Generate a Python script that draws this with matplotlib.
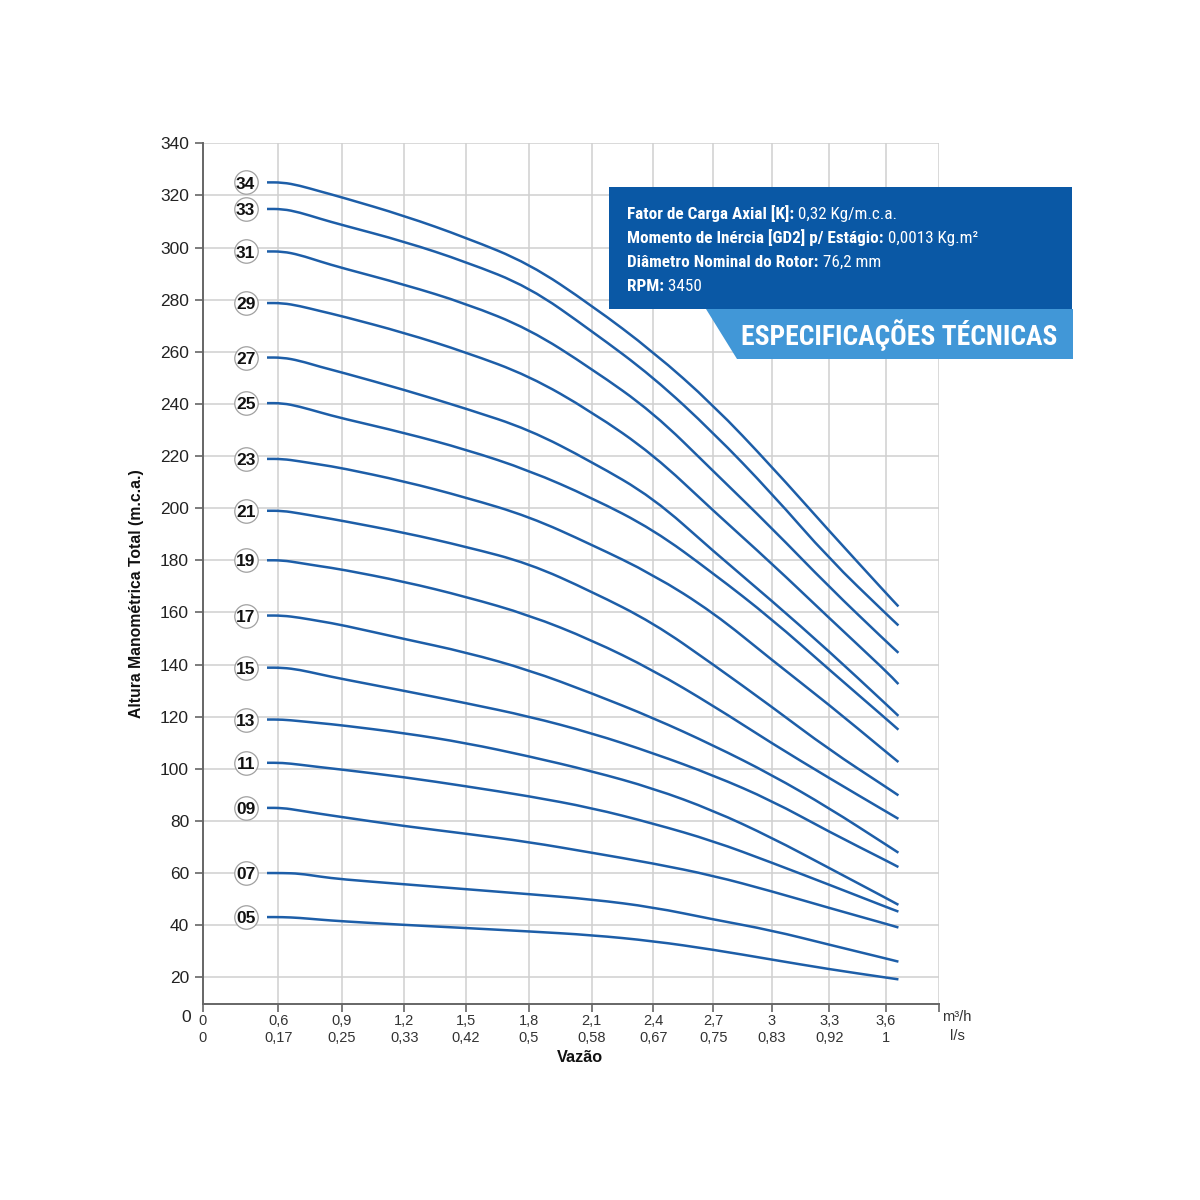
import os
import numpy as np
import matplotlib
matplotlib.use("Agg")
import matplotlib.pyplot as plt
from matplotlib import font_manager
from matplotlib.patches import Rectangle, Polygon, PathPatch
from matplotlib.path import Path

# ---------------- data ----------------
flow = [0.51, 0.62, 0.70, 0.80, 0.90, 1.2, 1.5, 1.8, 2.1, 2.4, 2.7, 3.0, 3.3, 3.6, 3.67]

head_34 = [325.0, 325.0, 323.8, 321.5, 319.3, 312.2, 303.8, 293.9, 277.8, 260.0, 239.6, 216.0, 191.2, 167.4, 162.3]
head_33 = [314.8, 314.8, 313.5, 311.0, 308.7, 302.3, 294.5, 284.9, 268.0, 250.3, 229.0, 205.7, 180.5, 159.5, 155.0]
head_31 = [298.5, 298.5, 297.2, 294.6, 292.2, 285.8, 278.5, 268.8, 253.5, 236.7, 214.2, 192.4, 169.7, 148.9, 144.5]
head_29 = [278.7, 278.7, 277.6, 275.6, 273.7, 267.3, 259.8, 250.8, 237.0, 220.6, 199.0, 178.8, 157.8, 137.5, 132.5]
head_27 = [257.8, 257.8, 256.6, 254.2, 252.1, 245.4, 238.2, 230.2, 217.8, 204.0, 183.5, 164.5, 145.0, 124.8, 120.3]
head_25 = [240.3, 240.3, 239.0, 236.7, 234.5, 228.9, 222.5, 214.5, 204.0, 191.8, 175.0, 157.5, 138.0, 119.2, 115.0]
head_23 = [218.9, 218.9, 218.0, 216.7, 215.4, 210.3, 204.1, 196.8, 186.0, 174.5, 160.0, 141.8, 124.5, 106.5, 102.6]
head_21 = [199.0, 199.0, 198.0, 196.6, 195.2, 190.6, 185.2, 178.8, 168.0, 156.0, 140.0, 123.8, 107.3, 93.0, 89.8]
head_19 = [180.0, 180.0, 179.0, 177.7, 176.5, 171.8, 166.0, 159.0, 149.4, 137.8, 124.2, 109.8, 96.4, 83.6, 80.8]
head_17 = [158.8, 158.8, 158.0, 156.6, 155.2, 149.8, 144.7, 137.9, 129.0, 119.5, 109.0, 97.7, 84.9, 70.9, 67.8]
head_15 = [138.8, 138.8, 138.0, 136.2, 134.5, 129.9, 125.2, 120.1, 113.7, 106.0, 97.5, 87.8, 75.8, 64.8, 62.3]
head_13 = [118.9, 118.9, 118.3, 117.5, 116.7, 113.7, 109.9, 104.8, 99.1, 92.5, 84.0, 73.6, 61.9, 50.4, 47.8]
head_11 = [102.3, 102.3, 101.6, 100.6, 99.7, 96.8, 93.3, 89.5, 85.0, 79.0, 72.3, 64.0, 55.5, 47.0, 45.2]
head_09 = [85.0, 85.0, 84.0, 82.7, 81.5, 78.0, 75.1, 71.9, 67.8, 63.7, 59.0, 53.0, 46.6, 40.5, 39.1]
head_07 = [60.0, 60.0, 59.8, 58.6, 57.6, 55.7, 53.8, 51.9, 49.9, 46.9, 42.2, 38.0, 32.5, 27.2, 26.0]
head_05 = [43.1, 43.1, 42.8, 42.1, 41.5, 40.1, 38.9, 37.6, 36.2, 33.9, 30.6, 26.8, 23.1, 19.9, 19.2]

stage_labels = ["34", "33", "31", "29", "27", "25", "23", "21", "19", "17", "15", "13", "11", "09", "07", "05"]
heads = [head_34, head_33, head_31, head_29, head_27, head_25, head_23, head_21,
         head_19, head_17, head_15, head_13, head_11, head_09, head_07, head_05]

x_ticks = [0, 0.6, 0.9, 1.2, 1.5, 1.8, 2.1, 2.4, 2.7, 3.0, 3.3, 3.6]
x_labels_m3h = ["0", "0,6", "0,9", "1,2", "1,5", "1,8", "2,1", "2,4", "2,7", "3", "3,3", "3,6"]
x_labels_ls = ["0", "0,17", "0,25", "0,33", "0,42", "0,5", "0,58", "0,67", "0,75", "0,83", "0,92", "1"]
x_end = 3.9
y_ticks = list(range(20, 341, 20))

spec_lines = [("Fator de Carga Axial [K]:", " 0,32 Kg/m.c.a."),
              ("Momento de Inércia [GD2] p/ Estágio:", " 0,0013 Kg.m²"),
              ("Diâmetro Nominal do Rotor:", " 76,2 mm"),
              ("RPM:", " 3450")]
spec_title = "ESPECIFICAÇÕES TÉCNICAS"

# ---------------- x scale (non-uniform grid of the original) ----------------
scale_vals = np.array([0, 0.6, 0.9, 1.2, 1.5, 1.8, 2.1, 2.4, 2.7, 3.0, 3.3, 3.6, 3.9])
scale_pos = np.array([203, 278.3, 341.7, 404.3, 466, 529, 591.7, 653.3, 713.3, 771.7, 829.3, 886, 939.3])


def _pw(x, a, b):
    x = np.asarray(x, dtype=float)
    y = np.interp(x, a, b)
    lo = b[0] + (x - a[0]) * (b[1] - b[0]) / (a[1] - a[0])
    hi = b[-1] + (x - a[-1]) * (b[-1] - b[-2]) / (a[-1] - a[-2])
    y = np.where(x < a[0], lo, y)
    y = np.where(x > a[-1], hi, y)
    return y


def fwd(x):
    return _pw(x, scale_vals, scale_pos)


def inv(p):
    return _pw(p, scale_pos, scale_vals)


# ---------------- fonts ----------------
def find_condensed(bold):
    prefs = ["roboto condensed", "open sans condensed", "noto sans", "liberation sans narrow",
             "dejavu sans condensed", "lato", "inter"]
    best = None
    for f in font_manager.fontManager.ttflist:
        fn = os.path.basename(f.fname).lower()
        nm = f.name.lower()
        st = str(f.stretch).lower()
        cond = ("condensed" in fn or "narrow" in fn or "condensed" in nm or "narrow" in nm
                or st in ("condensed", "semi-condensed", "500", "625", "750"))
        if not cond or "extra" in fn or "ultra" in fn or "semi" in fn:
            continue
        if f.style != "normal" or "italic" in fn:
            continue
        w = f.weight
        try:
            w = int(w)
        except Exception:
            w = {"bold": 700, "normal": 400, "regular": 400}.get(str(w).lower(), 400)
        if bold and w != 700:
            continue
        if not bold and w != 400:
            continue
        rank = len(prefs)
        for i, p in enumerate(prefs):
            if p in nm or p.replace(" ", "") in fn:
                rank = i
                break
        if best is None or rank < best[0]:
            best = (rank, f.fname)
    if best:
        return font_manager.FontProperties(fname=best[1])
    return font_manager.FontProperties(family="Liberation Sans", weight="bold" if bold else "normal")


fp_cb = find_condensed(True)
fp_cr = find_condensed(False)

plt.rcParams["font.family"] = ["Liberation Sans", "DejaVu Sans"]

# ---------------- figure ----------------
W = H = 1200
fig = plt.figure(figsize=(12, 12), dpi=100)
fig.patch.set_facecolor("white")


def fx(px):
    return px / W


def fy(py):
    return 1 - py / H


ax = fig.add_axes([fx(203), fy(1004), (939.3 - 203) / W, (1004 - 143.3) / H])
ax.set_xscale("function", functions=(fwd, inv))
ax.set_xlim(0, x_end)
ax.set_ylim(9.75, 340)

ax.set_xticks(x_ticks + [x_end])
ax.set_xticklabels([f"{a}\n{b}" for a, b in zip(x_labels_m3h, x_labels_ls)] + [""],
                   fontsize=10.5, linespacing=1.25, color="#333333")
ax.set_yticks(y_ticks)
ax.set_yticklabels([str(v) for v in y_ticks], fontsize=12.5, color="#222222")
ax.xaxis.set_minor_locator(matplotlib.ticker.NullLocator())
ax.tick_params(axis="x", direction="out", length=6, width=1.2, color="#666666", pad=1.5)
ax.tick_params(axis="y", direction="out", length=6, width=1.2, color="#666666", pad=4)

ax.grid(True, color="#d0d0d0", linewidth=1.1, zorder=0)
ax.set_axisbelow(True)
for s in ("top", "right"):
    ax.spines[s].set_visible(False)
for s in ("left", "bottom"):
    ax.spines[s].set_color("#666666")
    ax.spines[s].set_linewidth(1.4)


def smooth_path(xs, ys):
    """Quadratic B-spline style path through the read points (corners rounded)."""
    pts = np.column_stack([xs, ys]).astype(float)
    verts = [pts[0], (pts[0] + pts[1]) / 2]
    codes = [Path.MOVETO, Path.LINETO]
    for i in range(1, len(pts) - 1):
        verts += [pts[i], (pts[i] + pts[i + 1]) / 2]
        codes += [Path.CURVE3, Path.CURVE3]
    verts.append(pts[-1])
    codes.append(Path.LINETO)
    return Path(np.array(verts), codes)


curve_color = "#1d5ea8"
for h in heads:
    ax.add_patch(PathPatch(smooth_path(flow, h), facecolor="none", edgecolor=curve_color,
                           lw=1.8, capstyle="butt", joinstyle="round", zorder=3))

circ_x = 0.34
ax.scatter([circ_x] * len(heads), [h[0] for h in heads], s=285, facecolor="white",
           edgecolor="#a0a0a0", linewidth=0.9, zorder=4, clip_on=False)
for lab, h in zip(stage_labels, heads):
    ax.annotate(lab, (circ_x, h[0]), xytext=(0, -4.4), textcoords="offset points",
                ha="center", va="baseline", fontsize=12.5, fontweight="bold",
                color="#111111", zorder=5)

# axis extras
fig.text(fx(186), fy(1018), "0", ha="center", va="center", fontsize=12.5, color="#222222")
fig.text(fx(957), fy(1017), "m³/h", ha="center", va="center", fontsize=10.5, color="#333333")
fig.text(fx(957), fy(1036), "l/s", ha="center", va="center", fontsize=10.5, color="#333333")
xlab = fig.text(fx(580), fy(1057), "Vazão", ha="center", va="center", fontsize=12.5,
                fontweight="bold", color="#111111")
ylab = fig.text(fx(136), fy(594), "Altura Manométrica Total (m.c.a.)", ha="center", va="center",
                rotation=90, fontsize=11, fontweight="bold", color="#111111")

# spec box
fig.add_artist(Rectangle((fx(609), fy(309)), (1072 - 609) / W, (309 - 187) / H,
                         transform=fig.transFigure, facecolor="#0a58a5", edgecolor="none", zorder=5))
fig.add_artist(Polygon([(fx(706), fy(309)), (fx(1073), fy(309)), (fx(1073), fy(359)), (fx(737), fy(359))],
                       closed=True, transform=fig.transFigure, facecolor="#4197d7", edgecolor="none", zorder=5))

baselines = [219.3, 243.3, 267.3, 291.0]
bold_texts, reg_texts = [], []
for (b, r), yb in zip(spec_lines, baselines):
    tb = fig.text(fx(627.3), fy(yb), b, ha="left", va="baseline", fontproperties=fp_cb,
                  fontsize=11, color="white", zorder=6)
    tr = fig.text(fx(627.3), fy(yb), r, ha="left", va="baseline", fontproperties=fp_cr,
                  fontsize=11, color="white", zorder=6)
    bold_texts.append(tb)
    reg_texts.append(tr)

title = fig.text(fx(740.7), fy(345), spec_title, ha="left", va="baseline", fontproperties=fp_cb,
                 fontsize=24, color="white", zorder=6)

# fit text sizes to the widths measured on the original
fig.canvas.draw()
rend = fig.canvas.get_renderer()


def width_px(t):
    return t.get_window_extent(rend).width


w_line2 = width_px(bold_texts[1]) + width_px(reg_texts[1])
k = (975 - 627.3) / w_line2
for t in bold_texts + reg_texts:
    t.set_fontsize(t.get_fontsize() * k)
title.set_fontsize(title.get_fontsize() * 316 / width_px(title))
ylab.set_fontsize(ylab.get_fontsize() * 248 / ylab.get_window_extent(rend).height)
xlab.set_fontsize(xlab.get_fontsize() * 46 / width_px(xlab))
fig.canvas.draw()
for tb, tr in zip(bold_texts, reg_texts):
    x_end_px = tb.get_window_extent(rend).x1
    tr.set_x(x_end_px / W)

fig.savefig("out.png", dpi=100, facecolor="white")
